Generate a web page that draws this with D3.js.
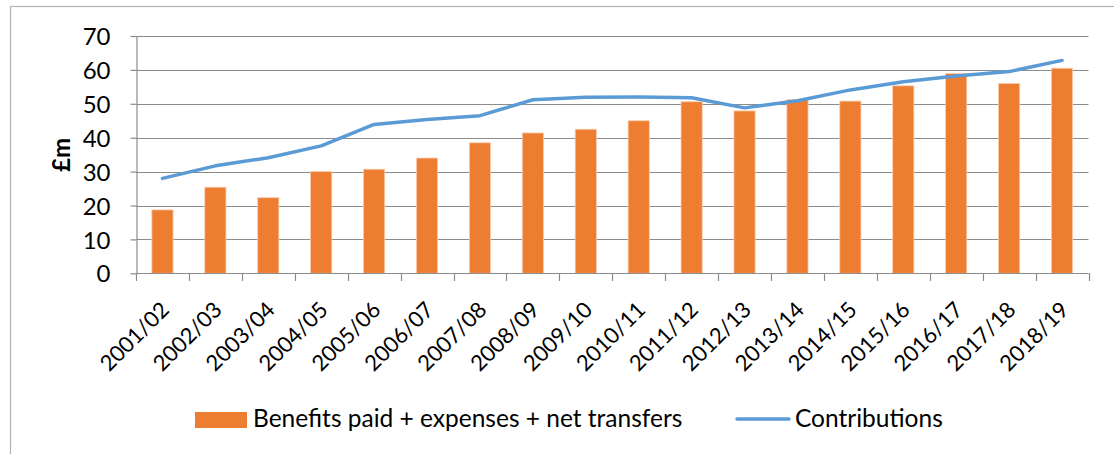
<!DOCTYPE html>
<html><head><meta charset="utf-8">
<script src="https://cdn.jsdelivr.net/npm/d3@7"></script>
<style>
html,body{margin:0;padding:0;background:#fff;}
svg text{font-family:Lato, "Open Sans", sans-serif; fill:#000;}
</style></head>
<body>
<svg id="chart" width="1114" height="454"></svg>
<script>
const categories = ["2001/02","2002/03","2003/04","2004/05","2005/06","2006/07","2007/08","2008/09","2009/10","2010/11","2011/12","2012/13","2013/14","2014/15","2015/16","2016/17","2017/18","2018/19"];
const benefits = [18.7,25.4,22.3,30.0,30.7,34.0,38.5,41.4,42.5,45.0,50.6,47.9,51.2,50.8,55.3,58.9,56.0,60.5];
const contributions = [28.0,31.7,34.1,37.6,43.9,45.4,46.5,51.2,51.9,52.0,51.8,48.8,50.9,54.1,56.5,58.2,59.5,62.8];
const yTicks = [0,10,20,30,40,50,60,70];
const seriesNames = ["Benefits paid + expenses + net transfers","Contributions"];
const yTitle = "£m";

(function(){
const svg = d3.select("#chart");
const pL = 136, pR = 1088.5, pT = 36, pB = 273.3;
const gridColor = "#8c8c8c";

// outer border
svg.append("rect").attr("x",10.5).attr("y",6.5).attr("width",1200).attr("height",600)
  .attr("fill","none").attr("stroke","#b3b3b3").attr("stroke-width",1.2);

const x = d3.scaleBand().domain(categories).range([pL,pR]).paddingInner(0.6).paddingOuter(0.3);
const xb = d3.scaleBand().domain(categories).range([pL,pR]).padding(0);
const y = d3.scaleLinear().domain([0,70]).range([pB,pT]);

// gridlines
svg.append("g").selectAll("line").data(yTicks.filter(d=>d>0)).join("line")
  .attr("x1",pL).attr("x2",pR).attr("y1",d=>Math.round(y(d))+0.5).attr("y2",d=>Math.round(y(d))+0.5)
  .attr("stroke",gridColor).attr("stroke-width",1.2);

// y axis
const yAxis = svg.append("g").attr("transform",`translate(${pL+0.5},0)`)
  .call(d3.axisLeft(y).tickValues(yTicks).tickSize(6).tickPadding(20).tickSizeOuter(0));
yAxis.select(".domain").attr("stroke",gridColor).attr("stroke-width",1.2);
yAxis.selectAll(".tick line").attr("stroke",gridColor).attr("stroke-width",1.2);
yAxis.selectAll(".tick text").style("font-size","24px").style("font-family","Lato").attr("dy","0.36em");

// bars
svg.append("g").selectAll("rect").data(benefits).join("rect")
  .attr("x",(d,i)=>x(categories[i])).attr("width",x.bandwidth())
  .attr("y",d=>y(d)).attr("height",d=>y(0)-y(d))
  .attr("fill","#ED7D31").attr("stroke","#f8cbad").attr("stroke-width",0.8);

// x axis line and ticks
svg.append("line").attr("x1",pL).attr("x2",pR).attr("y1",Math.round(pB)+0.5).attr("y2",Math.round(pB)+0.5)
  .attr("stroke",gridColor).attr("stroke-width",1.2);
const bounds = categories.map(c=>xb(c)).concat([pR]);
svg.append("g").selectAll("line").data(bounds).join("line")
  .attr("x1",d=>Math.round(d)+0.5).attr("x2",d=>Math.round(d)+0.5)
  .attr("y1",Math.round(pB)).attr("y2",Math.round(pB)+8)
  .attr("stroke",gridColor).attr("stroke-width",1.2);

// x labels
svg.append("g").selectAll("text").data(categories).join("text")
  .attr("transform",d=>`translate(${xb(d)+xb.bandwidth()/2+8},${pB+38}) rotate(-45)`)
  .attr("text-anchor","end").style("font-size","22px").text(d=>d);

// line
const line = d3.line().x((d,i)=>xb(categories[i])+xb.bandwidth()/2).y(d=>y(d));
svg.append("path").datum(contributions).attr("d",line)
  .attr("fill","none").attr("stroke","#5B9BD5").attr("stroke-width",3.5)
  .attr("stroke-linejoin","round").attr("stroke-linecap","round");

// y title
svg.append("text").attr("transform","translate(70,155) rotate(-90)")
  .attr("text-anchor","middle").style("font-size","24px").style("font-weight","bold").text(yTitle);

// legend
const lg = svg.append("g");
lg.append("rect").attr("x",195).attr("y",412).attr("width",52).attr("height",16).attr("fill","#ED7D31");
lg.append("text").attr("x",253).attr("y",427).style("font-size","24.5px").text(seriesNames[0]);
lg.append("line").attr("x1",737).attr("x2",789).attr("y1",419).attr("y2",419)
  .attr("stroke","#5B9BD5").attr("stroke-width",3.5).attr("stroke-linecap","round");
lg.append("text").attr("x",795).attr("y",427).style("font-size","24.5px").text(seriesNames[1]);
})();
</script>
</body></html>
